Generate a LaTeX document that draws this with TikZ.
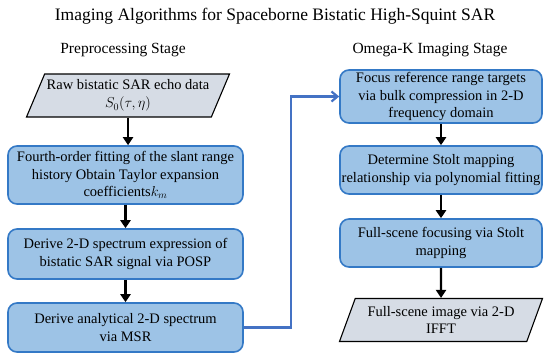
\documentclass[tikz,border=0pt]{standalone}
\usepackage{fontspec}
\setmainfont{Liberation Serif}
\usetikzlibrary{shapes.geometric,arrows.meta}
\definecolor{boxfill}{HTML}{9DC3E6}
\definecolor{boxline}{HTML}{3479C6}
\definecolor{iofill}{HTML}{D6DCE5}
\definecolor{linkblue}{HTML}{4472C4}
\tikzset{
  stepbox/.style={draw=boxline, line width=1.6pt, fill=boxfill, rounded corners=9pt,
    align=center, font=\rmfamily\fontsize{14.5}{17.5}\selectfont, inner sep=1pt},
  iobox/.style={trapezium, trapezium left angle=62, trapezium right angle=118,
    trapezium stretches body, draw=black, line width=1.1pt, fill=iofill,
    align=center, font=\rmfamily\fontsize{14.5}{17.5}\selectfont, inner sep=1pt,
    minimum width=203pt, minimum height=43pt},
  flow/.style={-{Triangle[length=8pt,width=10pt]}, line width=2.4pt, black},
  link/.style={-{Straight Barb[length=6pt,width=10pt]}, line width=2.2pt, linkblue}
}
\begin{document}
\begin{tikzpicture}[x=1pt,y=-1pt]
\useasboundingbox (0,0) rectangle (550,359);
\node (title) at (275,16) {\fontsize{17.5}{20}\selectfont Imaging Algorithms for Spaceborne Bistatic High-Squint SAR};
\node (st1) at (123,50) {\fontsize{15.5}{18}\selectfont Preprocessing Stage};
\node (st2) at (430,50) {\fontsize{15.5}{18}\selectfont Omega-K Imaging Stage};

\node[iobox] (p1) at (128,95.5) {Raw bistatic SAR echo data\\[1pt] $S_0(\tau,\eta)$};
\node[stepbox, minimum width=235pt, minimum height=58pt] (b1) at (125.5,175) {Fourth-order fitting of the slant range\\ history Obtain Taylor expansion\\ coefficients$k_m$};
\node[stepbox, minimum width=235pt, minimum height=50pt] (b2) at (125.5,254) {Derive 2-D spectrum expression of\\ bistatic SAR signal via POSP};
\node[stepbox, minimum width=235pt, minimum height=49pt] (b3) at (125.5,327.5) {Derive analytical 2-D spectrum\\ via MSR};

\node[stepbox, minimum width=202pt, minimum height=53pt] (r1) at (441,96.5) {Focus reference range targets\\ via bulk compression in 2-D\\ frequency domain};
\node[stepbox, minimum width=202pt, minimum height=48pt] (r2) at (441,170) {Determine Stolt mapping\\ relationship via polynomial fitting};
\node[stepbox, minimum width=202pt, minimum height=48pt] (r3) at (441,243) {Full-scene focusing via Stolt\\ mapping};
\node[iobox] (p2) at (441,320) {Full-scene image via 2-D\\ IFFT};

\draw[flow] (p1.south) -- (p1.south |- b1.north);
\draw[flow] (b1.south) -- (b2.north);
\draw[flow] (b2.south) -- (b3.north);
\draw[flow] (r1.south) -- (r2.north);
\draw[flow] (r2.south) -- (r3.north);
\draw[flow] (r3.south) -- (p2.north);
\coordinate (bend) at (291,0);
\draw[link] (b3.east) -- (b3.east -| bend) |- (r1.west);
\end{tikzpicture}
\end{document}
